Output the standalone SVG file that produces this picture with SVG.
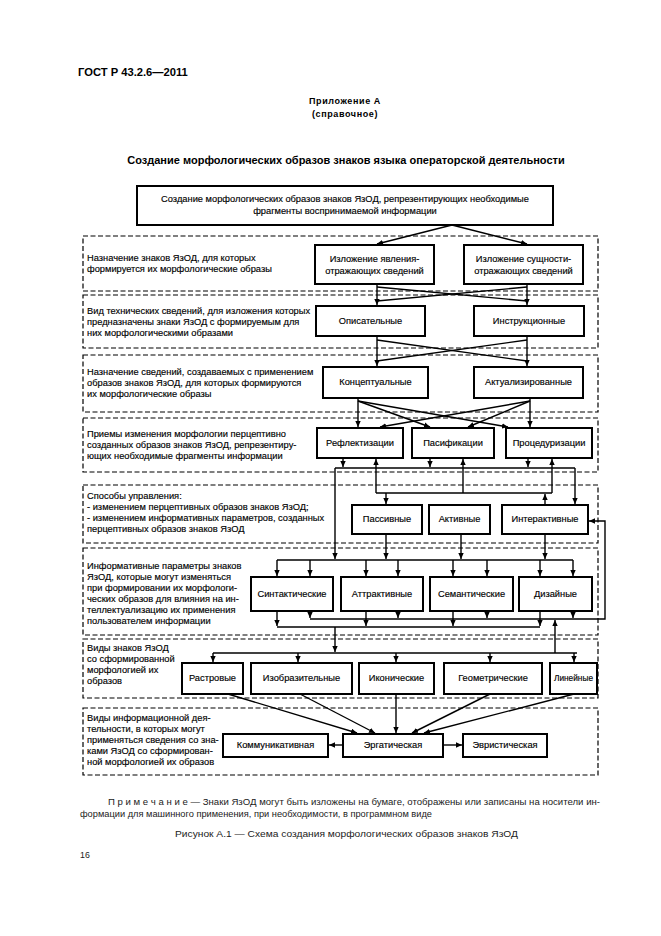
<svg xmlns="http://www.w3.org/2000/svg" width="661" height="936" viewBox="0 0 661 936">
<defs>
<style>
.t{font-family:"Liberation Sans",Arial,sans-serif;font-size:9.3px;fill:#000;stroke:#000;stroke-width:0.15}
.c{text-anchor:middle}
.b{font-weight:bold}
.box{fill:#fff;stroke:#000;stroke-width:2}
.band{fill:none;stroke:#000;stroke-width:1.2;stroke-dasharray:5 2.5}
.ln{fill:none;stroke:#000;stroke-width:1.4}
.ar{marker-end:url(#a)}
.note{font-family:"Liberation Sans",Arial,sans-serif;font-size:8.8px;fill:#222}
</style>
<marker id="a" viewBox="0 0 10 10" refX="10" refY="5" markerWidth="6" markerHeight="6" orient="auto" markerUnits="userSpaceOnUse"><path d="M0,0.5 L10,5 L0,9.5 z" fill="#000"/></marker>
</defs>
<rect width="661" height="936" fill="#fff"/>

<g id="header">
<text class="t b" x="78" y="76" style="font-size:11.2px;stroke-width:0">ГОСТ Р 43.2.6—2011</text>
<text class="t b c" x="345" y="104" style="font-size:9px;letter-spacing:0.6px;stroke-width:0">Приложение А</text>
<text class="t b c" x="345" y="117" style="font-size:9px;letter-spacing:0.6px;stroke-width:0">(справочное)</text>
<text class="t b c" x="346" y="164" style="font-size:11px;stroke-width:0">Создание морфологических образов знаков языка операторской деятельности</text>
</g>

<g id="bands">
<rect class="band" x="83" y="236" width="515" height="55"/>
<rect class="band" x="83" y="295" width="515" height="53"/>
<rect class="band" x="83" y="355" width="515" height="57"/>
<rect class="band" x="83" y="418" width="515" height="54"/>
<rect class="band" x="83" y="485" width="515" height="58"/>
<rect class="band" x="83" y="548" width="515" height="87"/>
<rect class="band" x="83" y="639" width="515" height="59"/>
<rect class="band" x="83" y="708" width="515" height="67"/>
</g>

<g id="row-labels">
<text class="t" x="87"><tspan x="87" y="261">Назначение знаков ЯзОД, для которых</tspan><tspan x="87" y="272">формируется их морфологические образы</tspan></text>
<text class="t" x="87"><tspan x="87" y="314">Вид технических сведений, для изложения которых</tspan><tspan x="87" y="325">предназначены знаки ЯзОД с формируемым для</tspan><tspan x="87" y="336">них морфологическими образами</tspan></text>
<text class="t" x="87"><tspan x="87" y="375">Назначение сведений, создаваемых с применением</tspan><tspan x="87" y="386">образов знаков ЯзОД, для которых формируются</tspan><tspan x="87" y="397">их морфологические образы</tspan></text>
<text class="t" x="87"><tspan x="87" y="437">Приемы изменения морфологии перцептивно</tspan><tspan x="87" y="448">созданных образов знаков ЯзОД, репрезентиру-</tspan><tspan x="87" y="459">ющих необходимые фрагменты информации</tspan></text>
<text class="t" x="87"><tspan x="87" y="499">Способы управления:</tspan><tspan x="87" y="510">- изменением перцептивных образов знаков ЯзОД;</tspan><tspan x="87" y="521">- изменением информативных параметров, созданных</tspan><tspan x="87" y="532">перцептивных образов знаков ЯзОД</tspan></text>
<text class="t" x="87"><tspan x="87" y="569">Информативные параметры знаков</tspan><tspan x="87" y="580">ЯзОД, которые могут изменяться</tspan><tspan x="87" y="591">при формировании их морфологи-</tspan><tspan x="87" y="602">ческих образов для влияния на ин-</tspan><tspan x="87" y="613">теллектуализацию их применения</tspan><tspan x="87" y="624">пользователем информации</tspan></text>
<text class="t" x="87"><tspan x="87" y="651">Виды знаков ЯзОД</tspan><tspan x="87" y="662">со сформированной</tspan><tspan x="87" y="673">морфологией их</tspan><tspan x="87" y="684">образов</tspan></text>
<text class="t" x="87"><tspan x="87" y="721">Виды информационной дея-</tspan><tspan x="87" y="732">тельности, в которых могут</tspan><tspan x="87" y="743">применяться сведения со зна-</tspan><tspan x="87" y="754">ками ЯзОД со сформирован-</tspan><tspan x="87" y="765">ной морфологией их образов</tspan></text>
</g>

<g id="connectors">
<path class="ln ar" d="M452,225 L377,244"/>
<path class="ln ar" d="M452,225 L527,244"/>
<path class="ln ar" d="M377,284 V305"/>
<path class="ln ar" d="M527,284 V305"/>
<path class="ln" d="M377,287 L527,301"/>
<path class="ln" d="M527,287 L377,301"/>
<path class="ln ar" d="M377,336 V366"/>
<path class="ln ar" d="M527,336 V366"/>
<path class="ln" d="M377,340 L527,361"/>
<path class="ln" d="M527,340 L377,361"/>
<path class="ln ar" d="M358,398 V427"/>
<path class="ln ar" d="M530,398 V427"/>
<path class="ln ar" d="M358,401 L430,427"/>
<path class="ln ar" d="M358,401 L508,427"/>
<path class="ln ar" d="M530,401 L380,427"/>
<path class="ln ar" d="M530,401 L468,427"/>
<path class="ln" d="M335,468 H575"/>
<path class="ln ar" d="M343,458 V467"/>
<path class="ln ar" d="M430,458 V467"/>
<path class="ln ar" d="M528,458 V467"/>
<path class="ln ar" d="M575,468 V504"/>
<path class="ln ar" d="M335,468 V559"/>
<path class="ln" d="M376,493 H552"/>
<path class="ln ar" d="M376,493 V459"/>
<path class="ln ar" d="M463,493 V459"/>
<path class="ln ar" d="M552,493 V459"/>
<path class="ln ar" d="M386,493 V504"/>
<path class="ln ar" d="M545,505 V494"/>
<path class="ln ar" d="M386,534 V559"/>
<path class="ln ar" d="M461,534 V559"/>
<path class="ln ar" d="M545,534 V559"/>
<path class="ln" d="M277,560 H573"/>
<path class="ln ar" d="M277,560 V576"/>
<path class="ln ar" d="M310,560 V576"/>
<path class="ln ar" d="M366,560 V576"/>
<path class="ln ar" d="M398,560 V576"/>
<path class="ln ar" d="M453,560 V576"/>
<path class="ln ar" d="M487,560 V576"/>
<path class="ln ar" d="M540,560 V576"/>
<path class="ln ar" d="M573,560 V576"/>
<path class="ln ar" d="M310,619 H605 V521 H589"/>
<path class="ln ar" d="M310,611 V618"/>
<path class="ln ar" d="M398,611 V618"/>
<path class="ln ar" d="M487,611 V618"/>
<path class="ln ar" d="M573,611 V618"/>
<path class="ln" d="M277,627 H540"/>
<path class="ln ar" d="M277,611 V626"/>
<path class="ln ar" d="M366,611 V626"/>
<path class="ln ar" d="M453,611 V626"/>
<path class="ln ar" d="M540,611 V626"/>
<path class="ln ar" d="M335,627 V652"/>
<path class="ln ar" d="M555,653 V620"/>
<path class="ln" d="M213,653 H577"/>
<path class="ln ar" d="M213,653 V662"/>
<path class="ln ar" d="M298,653 V662"/>
<path class="ln ar" d="M396,653 V662"/>
<path class="ln ar" d="M490,653 V662"/>
<path class="ln ar" d="M574,653 V662"/>
<path class="ln ar" d="M228,694 L357,733"/>
<path class="ln ar" d="M300,694 L375,733"/>
<path class="ln ar" d="M396,694 V733"/>
<path class="ln ar" d="M490,694 L412,733"/>
<path class="ln ar" d="M574,694 L424,733"/>
<path class="ln ar" d="M343,745 H329"/>
<path class="ln ar" d="M443,745 H462"/>
</g>

<g id="n-top"><rect class="box" x="137" y="186" width="416" height="39"/><text class="t c" x="345" y="202">Создание морфологических образов знаков ЯзОД, репрезентирующих необходимые</text><text class="t c" x="345" y="214">фрагменты воспринимаемой информации</text></g>

<g id="n-yavl"><rect class="box" x="315" y="245" width="119" height="39"/><text class="t c" x="374.5" y="262">Изложение явления-</text><text class="t c" x="374.5" y="274">отражающих сведений</text></g>
<g id="n-sushch"><rect class="box" x="464" y="245" width="119" height="39"/><text class="t c" x="523.5" y="262">Изложение сущности-</text><text class="t c" x="523.5" y="274">отражающих сведений</text></g>

<g id="n-opis"><rect class="box" x="316" y="306" width="109" height="30"/><text class="t c" x="370.5" y="324">Описательные</text></g>
<g id="n-instr"><rect class="box" x="474" y="306" width="110" height="30"/><text class="t c" x="529" y="324">Инструкционные</text></g>

<g id="n-konc"><rect class="box" x="323" y="367" width="105" height="31"/><text class="t c" x="375.5" y="385">Концептуальные</text></g>
<g id="n-aktual"><rect class="box" x="474" y="367" width="109" height="31"/><text class="t c" x="528.5" y="385">Актуализированные</text></g>

<g id="n-refl"><rect class="box" x="317" y="428" width="86" height="30"/><text class="t c" x="360" y="446">Рефлектизации</text></g>
<g id="n-pasif"><rect class="box" x="412" y="428" width="82" height="30"/><text class="t c" x="453" y="446">Пасификации</text></g>
<g id="n-proced"><rect class="box" x="506" y="428" width="86" height="30"/><text class="t c" x="549" y="446">Процедуризации</text></g>

<g id="n-passiv"><rect class="box" x="352" y="505" width="70" height="29"/><text class="t c" x="387" y="522">Пассивные</text></g>
<g id="n-aktiv"><rect class="box" x="429" y="505" width="61" height="29"/><text class="t c" x="459.5" y="522">Активные</text></g>
<g id="n-interakt"><rect class="box" x="502" y="505" width="86" height="29"/><text class="t c" x="545" y="522">Интерактивные</text></g>

<g id="n-sintakt"><rect class="box" x="251" y="577" width="82" height="34"/><text class="t c" x="292" y="597">Синтактические</text></g>
<g id="n-attrakt"><rect class="box" x="341" y="577" width="82" height="34"/><text class="t c" x="382" y="597">Аттрактивные</text></g>
<g id="n-semant"><rect class="box" x="430" y="577" width="83" height="34"/><text class="t c" x="471.5" y="597">Семантические</text></g>
<g id="n-dizain"><rect class="box" x="519" y="577" width="73" height="34"/><text class="t c" x="555.5" y="597">Дизайные</text></g>

<g id="n-rastr"><rect class="box" x="182" y="663" width="61" height="31"/><text class="t c" x="212.5" y="681">Растровые</text></g>
<g id="n-izobr"><rect class="box" x="251" y="663" width="101" height="31"/><text class="t c" x="301.5" y="681">Изобразительные</text></g>
<g id="n-ikon"><rect class="box" x="359" y="663" width="75" height="31"/><text class="t c" x="396.5" y="681">Иконические</text></g>
<g id="n-geom"><rect class="box" x="444" y="663" width="98" height="31"/><text class="t c" x="493" y="681">Геометрические</text></g>
<g id="n-lin"><rect class="box" x="550" y="663" width="47" height="31"/><text class="t c" x="573.5" y="681" style="font-size:8.3px">Линейные</text></g>

<g id="n-komm"><rect class="box" x="223" y="734" width="105" height="23"/><text class="t c" x="275.5" y="748">Коммуникативная</text></g>
<g id="n-ergat"><rect class="box" x="343" y="734" width="100" height="23"/><text class="t c" x="393" y="748">Эргатическая</text></g>
<g id="n-evrist"><rect class="box" x="463" y="734" width="84" height="23"/><text class="t c" x="505" y="748">Эвристическая</text></g>

<g id="footer">
<text class="note" x="108" y="805" textLength="492" lengthAdjust="spacingAndGlyphs">П р и м е ч а н и е — Знаки ЯзОД могут быть изложены на бумаге, отображены или записаны на носители ин-</text>
<text class="note" x="80" y="817" textLength="352" lengthAdjust="spacingAndGlyphs">формации для машинного применения, при необходимости, в программном виде</text>
<text class="note" x="175" y="837" textLength="343" lengthAdjust="spacingAndGlyphs">Рисунок  А.1 — Схема создания морфологических образов знаков ЯзОД</text>
<text class="note" x="80" y="858">16</text>
</g>
</svg>
